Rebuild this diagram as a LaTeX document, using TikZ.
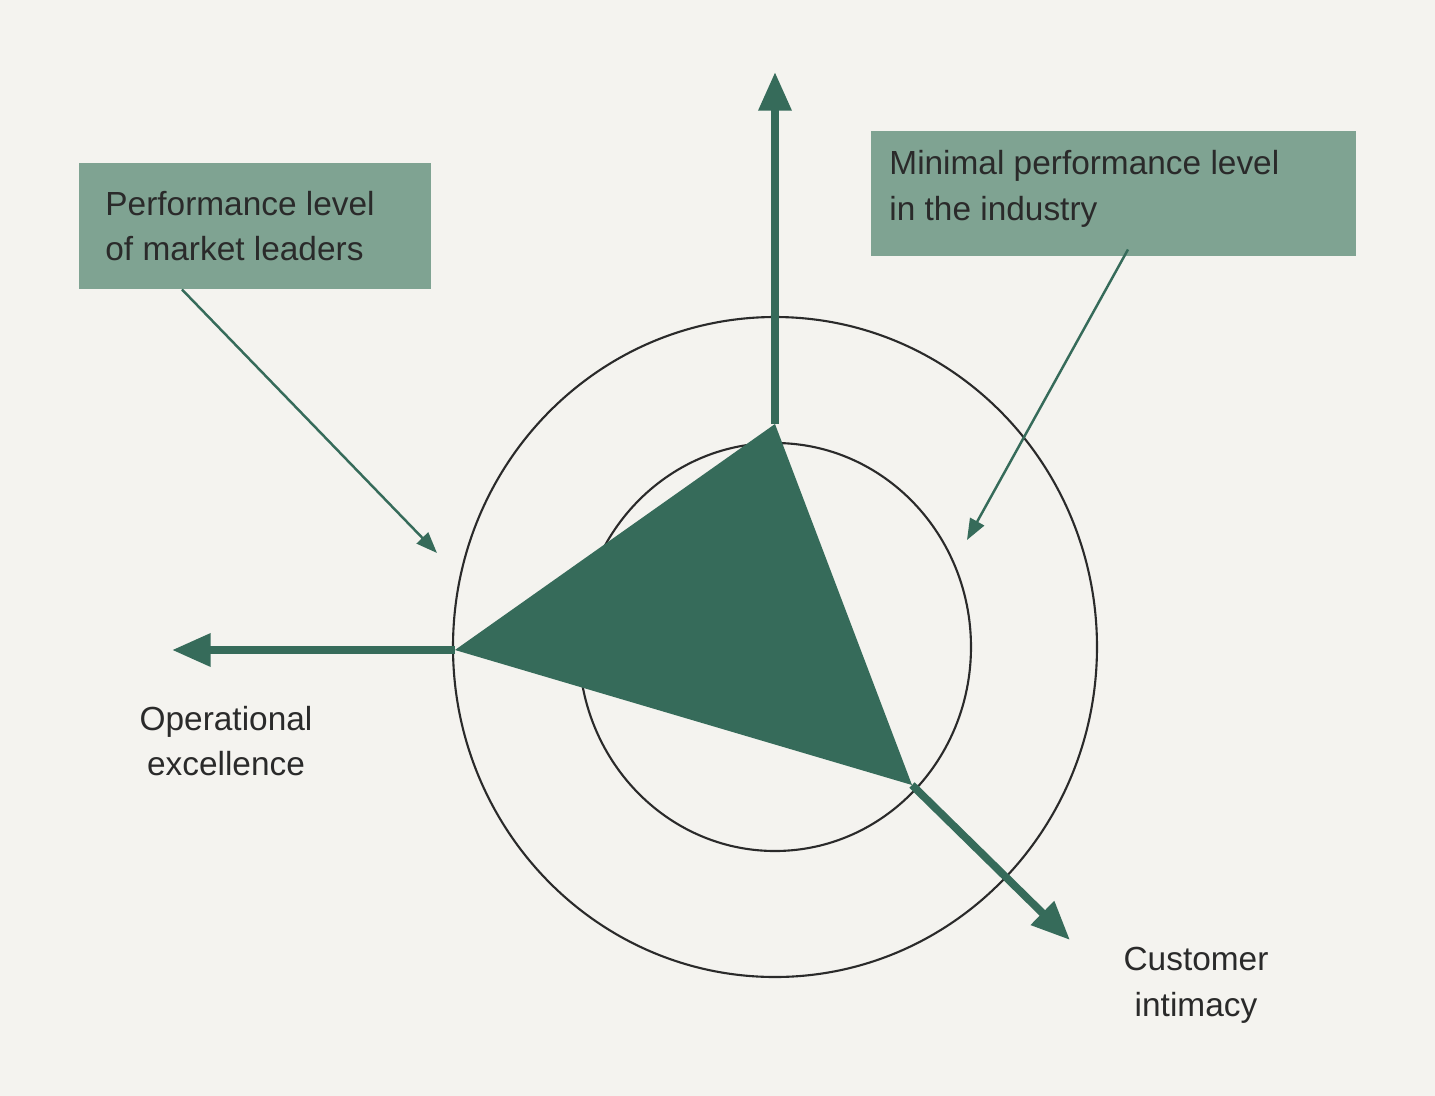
\documentclass[tikz,border=0pt]{standalone}
\usepackage{fontspec}
\setmainfont{Liberation Sans}
\usetikzlibrary{calc}
\definecolor{bgpaper}{HTML}{F4F3EF}
\definecolor{darkgreen}{HTML}{366B5A}
\definecolor{palegreen}{HTML}{7FA392}
\definecolor{inkgrey}{HTML}{2A2A2A}
\tikzstyle{legende} = [rectangle, fill=palegreen, anchor=north west, inner sep=0pt, align=left, text=inkgrey, font=\fontsize{9.5}{13}\selectfont]
\tikzstyle{axe} = [draw=darkgreen, line width=2.2pt, -{Triangle[length=11pt,width=9pt]}]
\tikzstyle{fleche} = [draw=darkgreen, line width=0.7pt, -{Triangle[length=6pt,width=4.5pt]}]
\tikzstyle{etiquette} = [align=center, text=inkgrey, font=\fontsize{9.5}{13}\selectfont]
\usetikzlibrary{arrows.meta}

\begin{document}
\begin{tikzpicture}[x=0.01cm,y=-0.01cm]

        %% background
        \fill[bgpaper] (0,0) rectangle (1435,1096);
        \useasboundingbox (0,0) rectangle (1435,1096);

        %% circles
        \node (C) at (775,647) {};
        \draw[inkgrey, line width=0.6pt] (C.center) ellipse [x radius=322, y radius=330];
        \draw[inkgrey, line width=0.6pt] (C.center) ellipse [x radius=196, y radius=204];

        %% triangle
        \coordinate (T1) at (775,424);
        \coordinate (T2) at (455,650);
        \coordinate (T3) at (912,785);
        \fill[darkgreen] (T1) -- (T2) -- (T3) -- cycle;

        %% axes
        \coordinate (A1) at (775,72);
        \coordinate (A2) at (172,650);
        \coordinate (A3) at (1070,940);
        \draw[axe] (T1) -- (A1);
        \draw[axe] (T2) -- (A2);
        \draw[axe] (T3) -- (A3);

        \node (L2) [etiquette] at (226,741) {Operational\\excellence};
        \node (L3) [etiquette] at (1196,985) {Customer\\intimacy};

        %% notes
        \node (B1) [legende, minimum width=3.52cm, minimum height=1.26cm, text width=3.52cm] at (78,162) {};
        \node [etiquette, anchor=west, align=left] at (93,226) {Performance level\\of market leaders};
        \node (B2) [legende, minimum width=4.85cm, minimum height=1.25cm, text width=4.85cm] at (870,130) {};
        \node [etiquette, anchor=west, align=left] at (877,189) {Minimal performance level\\in the industry};

        \coordinate (P1) at (437,553);
        \coordinate (P2) at (967,540);
        \draw[fleche] ($(B1.south west)+(104,0)$) -- (P1);
        \draw[fleche] ($(B2.south west)+(258,-7)$) -- (P2);

\end{tikzpicture}
\end{document}
